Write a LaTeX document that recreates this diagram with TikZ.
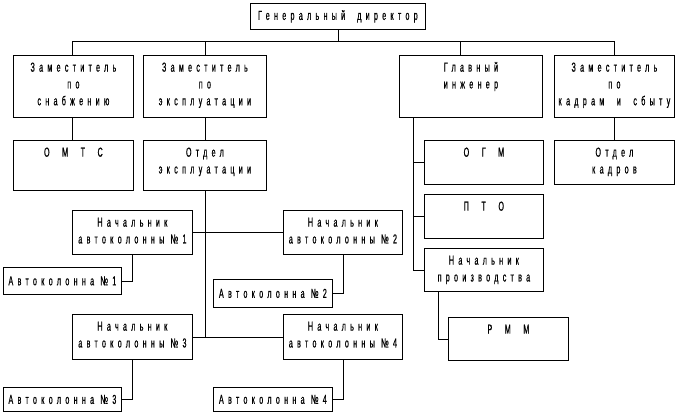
\documentclass[tikz,border=0pt]{standalone}
\usepackage{fontspec}
\newfontfamily\orgfont[FakeStretch=0.55, LetterSpace=33, FakeBold=0.6]{Liberation Sans}
\usetikzlibrary{positioning}

% text hung from the top of a box
\newcommand{\toptxt}[3]{\parbox[t][#2pt][t]{#1pt}{\centering\vspace*{4.5pt}\strut #3}}

\begin{document}
\begin{tikzpicture}[x=1pt, y=-1pt,
    box/.style={draw, line width=0.8pt, anchor=north west, inner sep=0pt,
      font=\orgfont\fontsize{13}{16.8}\selectfont},
    link/.style={line width=0.8pt}]
        \useasboundingbox (0,0) rectangle (675,413);

        % Director and deputies
        \node[box, minimum width=175, minimum height=26] (gd) at (250,3) {Генеральный\hspace{12pt}директор};
        \node[box] (zsn) at (13,55) {\toptxt{120}{62}{Заместитель\\по\\снабжению}};
        \node[box] (zex) at (143,55) {\toptxt{123}{62}{Заместитель\\по\\эксплуатации}};
        \node[box] (gi) at (399,55) {\toptxt{143}{62}{Главный\\инженер}};
        \node[box] (zkd) at (554,55) {\toptxt{120}{62}{Заместитель\\по\\кадрам~~и~~сбыту}};

        % Departments
        \node[box] (omts) at (13,140) {\toptxt{120}{50}{О~~М~~Т~~С}};
        \node[box] (oe) at (143,140) {\toptxt{123}{50}{Отдел\\эксплуатации}};
        \node[box] (ogm) at (424,140) {\toptxt{119}{44}{О~~Г~~М}};
        \node[box] (okd) at (554,140) {\toptxt{120}{44}{Отдел\\кадров}};
        \node[box] (pto) at (424,194) {\toptxt{119}{44}{П~~Т~~О}};
        \node[box] (np) at (424,248) {\toptxt{119}{43}{Начальник\\производства}};
        \node[box] (rmm) at (448,317) {\toptxt{120}{43}{Р~~М~~М}};

        % Motor columns
        \node[box] (n1) at (72,210) {\toptxt{120}{44}{Начальник\\автоколонны №1}};
        \node[box] (n2) at (283,210) {\toptxt{119}{44}{Начальник\\автоколонны №2}};
        \node[box] (n3) at (72,314) {\toptxt{120}{45}{Начальник\\автоколонны №3}};
        \node[box] (n4) at (283,314) {\toptxt{119}{45}{Начальник\\автоколонны №4}};
        \node[box, minimum width=118, minimum height=27] (a1) at (3,267) {Автоколонна №1};
        \node[box, minimum width=119, minimum height=28] (a2) at (213,279) {Автоколонна №2};
        \node[box, minimum width=118, minimum height=24] (a3) at (3,387) {Автоколонна №3};
        \node[box, minimum width=119, minimum height=24] (a4) at (213,387) {Автоколонна №4};

        % Top bus
        \coordinate (busL) at (72,41);
        \coordinate (busR) at (614,41);
        \draw[link] (busL) -- (busR);
        \draw[link] (gd.south) -- (gd.south |- busL);
        \draw[link] (zsn.north -| busL) -- (busL);
        \draw[link] (zex.north) -- (zex.north |- busL);
        \draw[link] ([xshift=-11pt]gi.north) -- ([xshift=-11pt]gi.north |- busL);
        \draw[link] (zkd.north) -- (zkd.north |- busR);

        % Deputies to departments
        \draw[link] (zsn.south -| busL) -- (omts.north -| busL);
        \draw[link] (zex.south) -- (oe.north);
        \draw[link] (zkd.south) -- (okd.north);

        % Chief engineer branch
        \draw[link] ([xshift=14pt]gi.south west) |- (np.west);
        \draw[link] (ogm.west) -- ++(-11,0);
        \draw[link] (pto.west) -- ++(-11,0);
        \draw[link] ([xshift=14pt]np.south west) |- (rmm.west);

        % Operations branch
        \draw[link] (oe.south) -- (oe.south |- n3.east);
        \draw[link] (n1.east) -- (n2.west);
        \draw[link] (n3.east) -- (n4.west);
        \draw[link] (n1.south) |- (a1.east);
        \draw[link] (n2.south) |- (a2.east);
        \draw[link] (n3.south) |- (a3.east);
        \draw[link] (n4.south) |- (a4.east);
    \end{tikzpicture}
\end{document}
